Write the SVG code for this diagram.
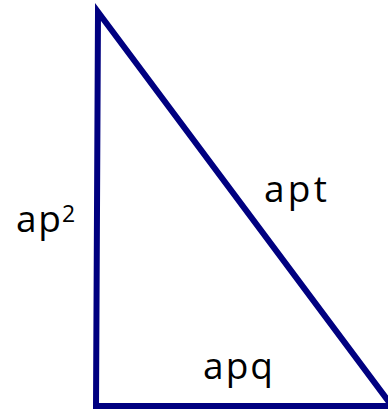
<svg xmlns="http://www.w3.org/2000/svg" width="388" height="409" viewBox="0 0 388 409">
  <style>
    .edge { fill: none; stroke: #000080; stroke-width: 6; stroke-linejoin: miter; stroke-miterlimit: 10; }
    .lbl { font-family: "Open Sans", "Liberation Sans", sans-serif; font-size: 37px; fill: #000; }
    .sup { font-family: "Open Sans", "Liberation Sans", sans-serif; font-size: 23px; fill: #000; }
  </style>
  <rect width="388" height="409" fill="#fff"/>
  <g id="connectors">
    <polygon class="edge" points="98,12 96,406 392,406"/>
  </g>
  <g id="label-ap2">
    <text class="lbl" x="16" y="232" textLength="45" lengthAdjust="spacing">ap</text>
    <text class="sup" x="62" y="222">2</text>
  </g>
  <g id="label-apt">
    <text class="lbl" x="264" y="202" textLength="63" lengthAdjust="spacing">apt</text>
  </g>
  <g id="label-apq">
    <text class="lbl" x="203" y="379" textLength="70" lengthAdjust="spacing">apq</text>
  </g>
</svg>
